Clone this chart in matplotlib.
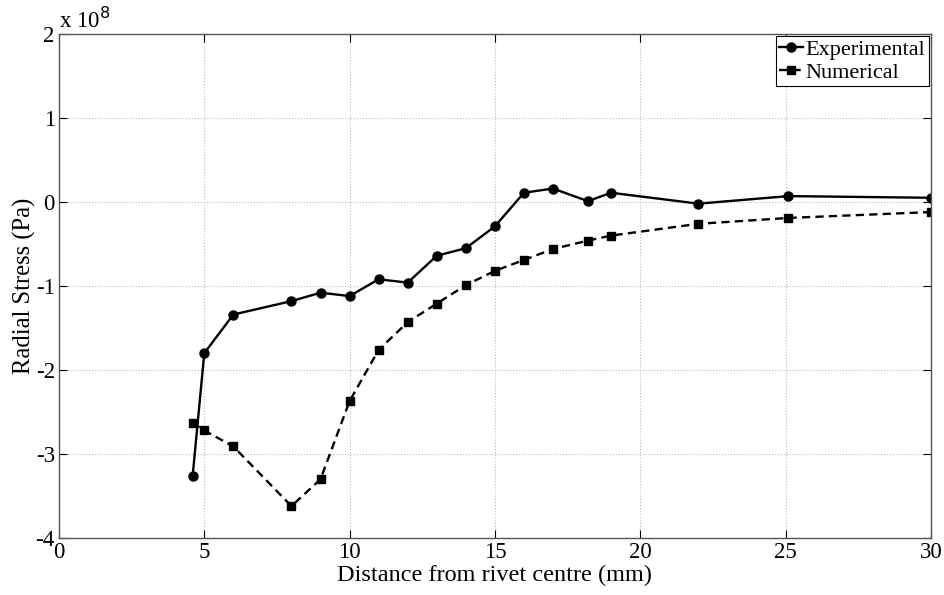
import numpy as np
import matplotlib
matplotlib.use('Agg')
import matplotlib.pyplot as plt
from matplotlib.ticker import FuncFormatter

# distances (mm) and radial stress (Pa)
exp_x = [4.6, 5.0, 6.0, 8.0, 9.0, 10.0, 11.0, 12.0, 13.0, 14.0, 15.0, 16.0, 17.0, 18.2, 19.0, 22.0, 25.1, 30.0]
exp_y = [-3.26e8, -1.80e8, -1.34e8, -1.18e8, -1.08e8, -1.12e8, -0.92e8, -0.96e8, -0.64e8, -0.55e8,
         -0.29e8, 0.11e8, 0.16e8, 0.01e8, 0.11e8, -0.02e8, 0.07e8, 0.05e8]
num_x = [4.6, 5.0, 6.0, 8.0, 9.0, 10.0, 11.0, 12.0, 13.0, 14.0, 15.0, 16.0, 17.0, 18.2, 19.0, 22.0, 25.1, 30.0]
num_y = [-2.63e8, -2.72e8, -2.91e8, -3.62e8, -3.30e8, -2.37e8, -1.76e8, -1.43e8, -1.21e8, -0.99e8,
         -0.82e8, -0.69e8, -0.56e8, -0.46e8, -0.40e8, -0.26e8, -0.19e8, -0.12e8]

plt.rcParams['font.family'] = 'Liberation Serif'

fig = plt.figure(figsize=(9.45, 5.95), dpi=100)
ax = fig.add_axes([0.0624, 0.0958, 0.9226, 0.8471])

ax.plot(exp_x, exp_y, '-', color='black', lw=1.7, marker='o', ms=6.5, label='Experimental')
ax.plot(num_x, num_y, '--', color='black', lw=1.7, marker='s', ms=5.5, dashes=(3.5, 2.2), label='Numerical')

ax.set_xlim(0, 30)
ax.set_ylim(-4e8, 2e8)
ax.set_xticks([0, 5, 10, 15, 20, 25, 30])
ax.set_yticks(np.arange(-4e8, 2.1e8, 1e8))
ax.yaxis.set_major_formatter(FuncFormatter(lambda v, p: '%d' % round(v / 1e8)))
ax.text(0.0, 1.002, 'x 10$^{8}$', transform=ax.transAxes, fontsize=16.5, va='bottom', ha='left')

ax.grid(True, linestyle=':', color='#bbbbbb', lw=0.8)
ax.tick_params(direction='in', top=True, right=True, length=6, width=0.8, pad=3, labelsize=16.5)
for s in ax.spines.values():
    s.set_color('#555555')
    s.set_linewidth(1.0)

ax.set_xlabel('Distance from rivet centre (mm)', fontsize=17.5, labelpad=1.5)
ax.set_ylabel('Radial Stress (Pa)', fontsize=17.7, labelpad=0)

leg = ax.legend(loc='upper right', fontsize=16, handlelength=1.1, handletextpad=0.1,
                borderaxespad=0.1, borderpad=0.15, labelspacing=0.1, fancybox=False, framealpha=1)
leg.get_frame().set_edgecolor('black')
leg.get_frame().set_linewidth(0.8)

fig.savefig('out.png', dpi=100)
